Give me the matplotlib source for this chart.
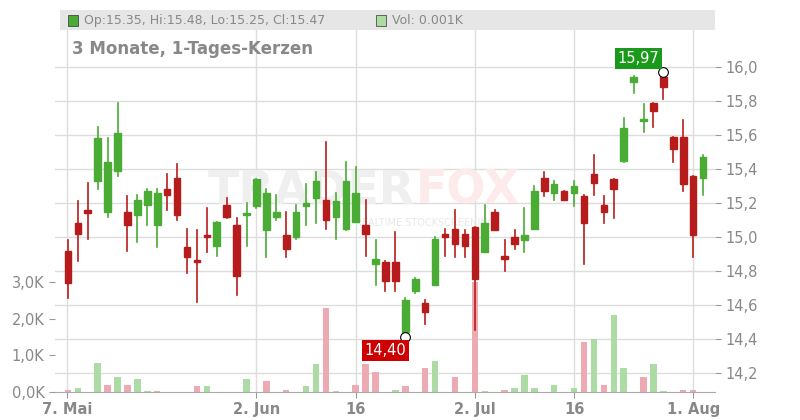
import matplotlib.pyplot as plt
from matplotlib.patches import Rectangle

# OHLC per trading day (index 0 = 7 Mai)
opens = [14.92, 15.08, 15.16, 15.33, 15.15, 15.39, 15.15, 15.13, 15.19, 15.07, 15.28, 15.35, 14.94, 14.86, 15.01,
         14.95, 15.19, 15.07, 15.13, 15.18, 15.04, 15.12, 15.01, 15.00, 15.18, 15.23, 15.22, 15.12, 15.05, 15.09,
         15.07, 14.84, 14.85, 14.85, 14.44, 14.68, 14.61, 14.72, 15.02, 15.05, 15.02, 15.06, 14.91, 15.15, 14.89,
         15.00, 14.98, 15.05, 15.35, 15.26, 15.27, 15.26, 15.24, 15.37, 15.19, 15.34, 15.45, 15.91, 15.68, 15.79,
         15.94, 15.59, 15.59, 15.36, 15.35]
highs = [14.98, 15.21, 15.32, 15.65, 15.58, 15.79, 15.24, 15.25, 15.28, 15.28, 15.37, 15.43, 15.05, 15.04, 15.17,
         15.09, 15.23, 15.11, 15.20, 15.34, 15.28, 15.25, 15.15, 15.19, 15.31, 15.38, 15.56, 15.26, 15.44, 15.41,
         15.22, 14.98, 14.86, 15.03, 14.64, 14.76, 14.63, 15.00, 15.05, 15.16, 15.04, 15.06, 15.19, 15.16, 14.98,
         15.04, 15.17, 15.30, 15.38, 15.33, 15.27, 15.33, 15.25, 15.48, 15.24, 15.34, 15.70, 15.95, 15.78, 15.79,
         15.97, 15.59, 15.69, 15.36, 15.48]
lows = [14.64, 14.86, 14.99, 15.28, 15.12, 15.36, 14.92, 14.97, 15.07, 14.94, 15.16, 15.10, 14.79, 14.62, 14.91,
        14.89, 15.11, 14.66, 14.95, 15.17, 14.88, 15.10, 14.88, 14.99, 15.07, 15.08, 15.05, 14.99, 15.04, 15.09,
        14.89, 14.72, 14.68, 14.68, 14.41, 14.67, 14.49, 14.72, 14.89, 14.88, 14.88, 14.45, 14.91, 15.04, 14.80,
        14.93, 14.91, 15.05, 15.24, 15.22, 15.22, 15.18, 14.84, 15.25, 15.08, 15.11, 15.44, 15.85, 15.62, 15.65,
        15.81, 15.44, 15.27, 14.88, 15.25]
closes = [14.73, 15.02, 15.14, 15.58, 15.44, 15.61, 15.07, 15.22, 15.27, 15.26, 15.25, 15.13, 14.88, 14.85, 15.00,
          15.09, 15.12, 14.77, 15.14, 15.34, 15.26, 15.15, 14.93, 15.15, 15.20, 15.33, 15.10, 15.21, 15.33, 15.26,
          15.02, 14.87, 14.74, 14.74, 14.63, 14.75, 14.56, 14.99, 15.00, 14.96, 14.95, 14.75, 15.08, 15.04, 14.87,
          14.96, 15.01, 15.27, 15.27, 15.31, 15.22, 15.30, 15.08, 15.32, 15.15, 15.28, 15.64, 15.94, 15.69, 15.74,
          15.88, 15.52, 15.31, 15.01, 15.47]

# volume in K: (day index, value, up?)
vol_idx = [0, 1, 3, 4, 5, 6, 7, 8, 9, 13, 14, 18, 20, 22, 24, 25, 26, 27, 29, 30, 31, 33, 34, 36, 37, 39, 41, 42,
           44, 45, 46, 47, 49, 51, 52, 53, 54, 55, 56, 58, 59, 60, 62, 63]
vol_val = [0.05, 0.1, 0.8, 0.2, 0.4, 0.2, 0.35, 0.03, 0.03, 0.15, 0.15, 0.35, 0.3, 0.05, 0.15, 0.75, 2.3, 0.03,
           0.2, 0.75, 0.55, 0.05, 0.15, 0.65, 0.85, 0.4, 3.0, 0.03, 0.05, 0.1, 0.45, 0.1, 0.2, 0.1, 1.35, 1.45,
           0.2, 2.1, 0.65, 0.4, 0.75, 0.03, 0.05, 0.05]
vol_up = [0, 1, 1, 0, 1, 0, 1, 1, 0, 0, 1, 1, 0, 0, 1, 1, 0, 1, 0, 0, 0, 1, 0, 0, 1, 0, 0, 1,
          0, 1, 1, 1, 1, 1, 0, 1, 0, 1, 1, 0, 1, 1, 0, 0]

tick_pos = [-0.1, 19, 29, 41, 51, 63]
tick_labels = ["7. Mai", "2. Jun", "16", "2. Jul", "16", "1. Aug"]
price_ticks = [14.2, 14.4, 14.6, 14.8, 15.0, 15.2, 15.4, 15.6, 15.8, 16.0]
vol_ticks = [0, 1, 2, 3]

green, red = "#4aac34", "#b71c1c"
vgreen, vred = "#acdca4", "#eeaab2"

fig = plt.figure(figsize=(8, 4.2), dpi=100)
ax = fig.add_axes([55 / 800, 28 / 420, 660 / 800, 362 / 420])
axv = ax.twinx()
ax.set_zorder(2)
ax.patch.set_visible(False)

ax.set_xlim(-1.3, 65.2)
ax.set_ylim(14.088, 16.218)
axv.set_ylim(0, 9.86)

# grid
for p in price_ticks:
    axv.axhline((p - 14.088) / (16.218 - 14.088) * 9.86, color="#dddddd", lw=1, zorder=0)
for t in tick_pos:
    axv.axvline(t, color="#dddddd", lw=1, zorder=0)

# watermark
ax.text(35, 15.27, "TRADER", fontsize=33, fontweight="bold", color="#efefef", ha="right", va="center", zorder=0)
ax.text(35, 15.27, "FOX", fontsize=33, fontweight="bold", color="#fdeaea", ha="left", va="center", zorder=0)
ax.text(36, 15.08, "REALTIME STOCKSCREENING", fontsize=7, color="#e8e8e8", ha="center", va="center", zorder=0)

for i, v, u in zip(vol_idx, vol_val, vol_up):
    axv.bar(i, v, width=0.65, color=vgreen if u else vred, zorder=1)

for i, (o, h, l, c) in enumerate(zip(opens, highs, lows, closes)):
    col = green if c >= o else red
    ax.plot([i, i], [l, h], color=col, lw=1.2, zorder=3)
    ax.add_patch(Rectangle((i - 0.33, min(o, c)), 0.66, max(abs(c - o), 0.012), color=col, zorder=4))

ax.set_yticks(price_ticks)
ax.set_yticklabels([f"{p:.1f}".replace(".", ",") for p in price_ticks])
ax.yaxis.tick_right()
axv.set_yticks(vol_ticks)
axv.set_yticklabels([f"{v},0K" for v in vol_ticks])
axv.yaxis.tick_left()
ax.set_xticks(tick_pos)
ax.set_xticklabels(tick_labels)
for a in (ax, axv):
    a.tick_params(length=4, colors="#999999", labelcolor="#888888", labelsize=10.5)
    for s in a.spines.values():
        s.set_visible(False)
for lb in ax.get_xticklabels():
    lb.set_fontweight("bold")
ax.spines["bottom"].set_visible(True)
ax.spines["bottom"].set_color("#aaaaaa")

ax.text(0.025, 0.948, "3 Monate, 1-Tages-Kerzen", transform=ax.transAxes, fontsize=12,
        color="#888888", fontweight="bold", va="center")

# high/low markers
ax.plot(60, 15.97, "o", ms=7, mfc="white", mec="black", mew=0.8, zorder=6)
ax.text(57.5, 16.05, "15,97", color="white", fontsize=10.5, ha="center", va="center", zorder=6,
        bbox=dict(boxstyle="square,pad=0.2", fc="#1a9a1a", ec="none"))
ax.plot(34, 14.41, "o", ms=7, mfc="white", mec="black", mew=0.8, zorder=6)
ax.text(32, 14.33, "14,40", color="white", fontsize=10.5, ha="center", va="center", zorder=6,
        bbox=dict(boxstyle="square,pad=0.2", fc="#cc0000", ec="none"))

# header bar
fig.patches.append(Rectangle((60 / 800, 390 / 420), 655 / 800, 20 / 420, transform=fig.transFigure,
                             fc="#e6e6e6", ec="none"))
fig.patches.append(Rectangle((68 / 800, 394 / 420), 10 / 800, 11 / 420, transform=fig.transFigure,
                             fc=green, ec="#333333", lw=0.5))
fig.text(84 / 800, 399.5 / 420, "Op:15.35, Hi:15.48, Lo:15.25, Cl:15.47", fontsize=9, color="#888888", va="center")
fig.patches.append(Rectangle((376 / 800, 394 / 420), 10 / 800, 11 / 420, transform=fig.transFigure,
                             fc=vgreen, ec="#333333", lw=0.5))
fig.text(392 / 800, 399.5 / 420, "Vol: 0.001K", fontsize=9, color="#888888", va="center")

fig.savefig("out.png", dpi=100)
